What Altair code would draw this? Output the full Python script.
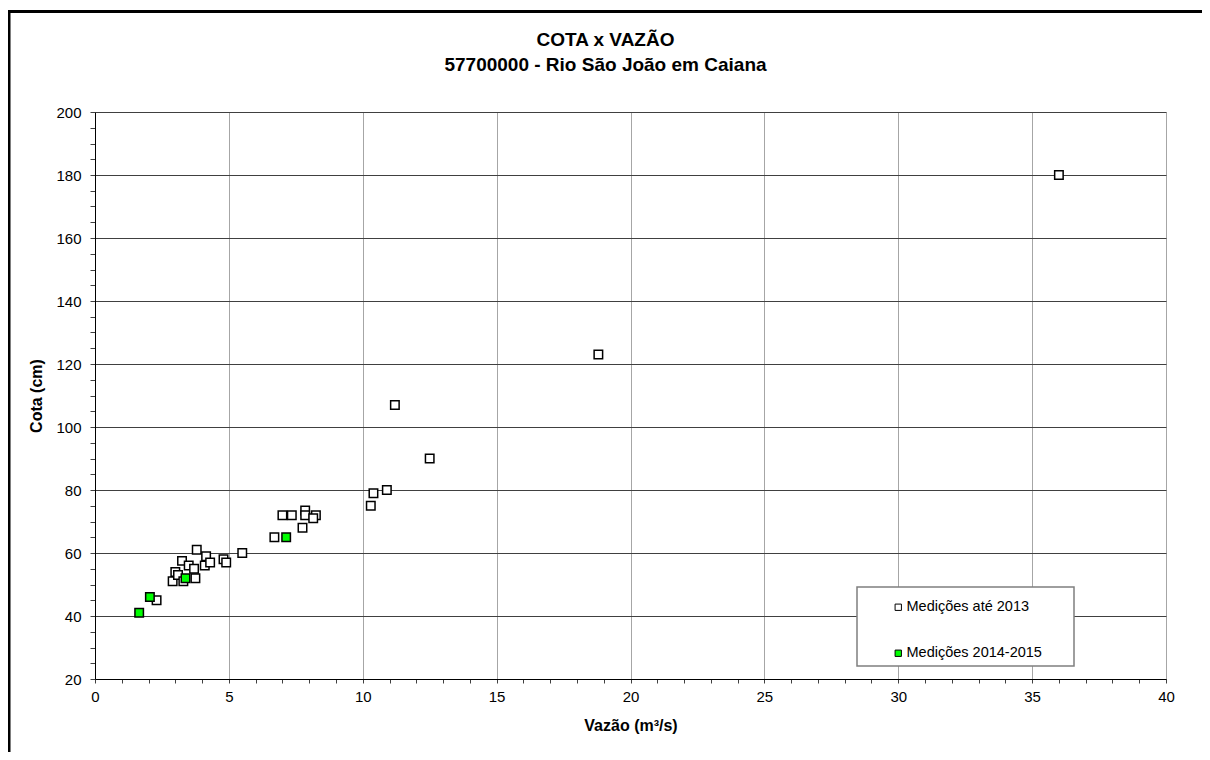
import altair as alt
import pandas as pd

# Medições até 2013
q_old = [2.3, 2.9, 3.0, 3.1, 3.3, 3.25, 3.5, 3.7, 3.75, 3.8, 4.15, 4.1, 4.3, 4.8, 4.9,
         5.5, 6.7, 7.0, 7.35, 7.85, 7.85, 8.25, 8.15, 7.75, 10.3, 10.4, 10.9, 11.2, 12.5,
         18.8, 36.0]
h_old = [45, 51, 54, 53, 51, 57.5, 56, 55, 52, 61, 59, 56, 57, 58, 57,
         60, 65, 72, 72, 73.5, 72, 72, 71, 68, 75, 79, 80, 107, 90,
         123, 180]
# Medições 2014-2015
q_new = [1.65, 2.05, 3.38, 7.14]
h_new = [41, 46, 52, 65]

series_names = ["Medições até 2013", "Medições 2014-2015"]
series_fill = ["#ffffff", "#00ff00"]

title_lines = ["COTA x VAZÃO", "57700000 - Rio São João em Caiana"]

x_ticks = list(range(0, 41, 1))
y_ticks = list(range(20, 201, 5))

df = pd.DataFrame({
    "q": q_old + q_new,
    "h": h_old + h_new,
    "serie": [series_names[0]] * len(q_old) + [series_names[1]] * len(q_new),
    "ordem": list(range(len(q_old))) + list(range(100, 100 + len(q_new))),
})

FONT = "Liberation Sans"
W, H = 1071, 567

points = alt.Chart(df).mark_point(
    shape="square", filled=True, size=72, stroke="black", strokeWidth=1.5, opacity=1
).encode(
    x=alt.X("q:Q", title="Vazão (m³/s)",
            scale=alt.Scale(domain=[0, 40], nice=False, zero=False),
            axis=alt.Axis(values=x_ticks,
                          labelExpr="datum.value % 5 === 0 ? datum.label : ''",
                          grid=True, gridColor="#a6a6a6", gridWidth=1,
                          gridOpacity={"condition": {"test": "datum.value % 5 === 0", "value": 1}, "value": 0},
                          domainColor="black", tickColor="#404040", tickSize=4,
                          labelPadding=6, labelFontSize=15, labelColor="black",
                          labelFont=FONT, titleFont=FONT, titleFontSize=16,
                          titleFontWeight="bold", titleColor="black", titlePadding=13,
                          labelFlush=False, labelOverlap=False)),
    y=alt.Y("h:Q", title="Cota (cm)",
            scale=alt.Scale(domain=[20, 200], nice=False, zero=False),
            axis=alt.Axis(values=y_ticks,
                          labelExpr="datum.value % 20 === 0 ? datum.label : ''",
                          grid=True, gridColor="#404040", gridWidth=1,
                          gridOpacity={"condition": {"test": "datum.value % 20 === 0", "value": 1}, "value": 0},
                          domainColor="black", tickColor="#404040", tickSize=5,
                          labelPadding=9, labelFontSize=15, labelColor="black",
                          labelFont=FONT, titleFont=FONT, titleFontSize=16,
                          titleFontWeight="bold", titleColor="black", titlePadding=11,
                          labelFlush=False, labelOverlap=False)),
    fill=alt.Fill("serie:N",
                  scale=alt.Scale(domain=series_names, range=series_fill),
                  legend=alt.Legend(orient="none", legendX=796, legendY=488,
                                    title=None, padding=0, rowPadding=31,
                                    symbolType="square", symbolSize=40,
                                    symbolStrokeColor="black", symbolStrokeWidth=1,
                                    symbolOffset=0, labelOffset=1,
                                    labelFont=FONT, labelFontSize=14.5, labelColor="black",
                                    labelLimit=300)),
    order=alt.Order("ordem:Q"),
)

legend_box = alt.Chart(pd.DataFrame({"a": [0]})).mark_rect(
    fill="white", stroke="#7f7f7f", strokeWidth=1.5
).encode(
    x=alt.value(762), x2=alt.value(979), y=alt.value(475), y2=alt.value(554)
)

title_df = pd.DataFrame({"t": title_lines, "i": [0, 1]})
title1 = alt.Chart(title_df.iloc[[0]]).mark_text(
    font=FONT, fontSize=19, fontWeight="bold", color="black", align="center", baseline="alphabetic"
).encode(text="t:N", x=alt.value(510.5), y=alt.value(-66))
title2 = alt.Chart(title_df.iloc[[1]]).mark_text(
    font=FONT, fontSize=19, fontWeight="bold", color="black", align="center", baseline="alphabetic"
).encode(text="t:N", x=alt.value(510.5), y=alt.value(-41))

frame_left = alt.Chart(pd.DataFrame({"a": [0]})).mark_rule(
    color="black", strokeWidth=3
).encode(x=alt.value(-86), y=alt.value(-102), y2=alt.value(660))
frame_top = alt.Chart(pd.DataFrame({"a": [0]})).mark_rule(
    color="black", strokeWidth=3
).encode(y=alt.value(-100.5), x=alt.value(-87.5), x2=alt.value(1130))

chart = alt.layer(points, legend_box, title1, title2, frame_left, frame_top).properties(
    width=W, height=H,
    autosize=alt.AutoSizeParams(type="none"),
    padding={"left": 87, "top": 104, "right": 36, "bottom": 73},
).configure_view(stroke="black", strokeWidth=1).configure(background="white")

chart.save("out.html", embed_options={"renderer": "svg", "actions": False})
